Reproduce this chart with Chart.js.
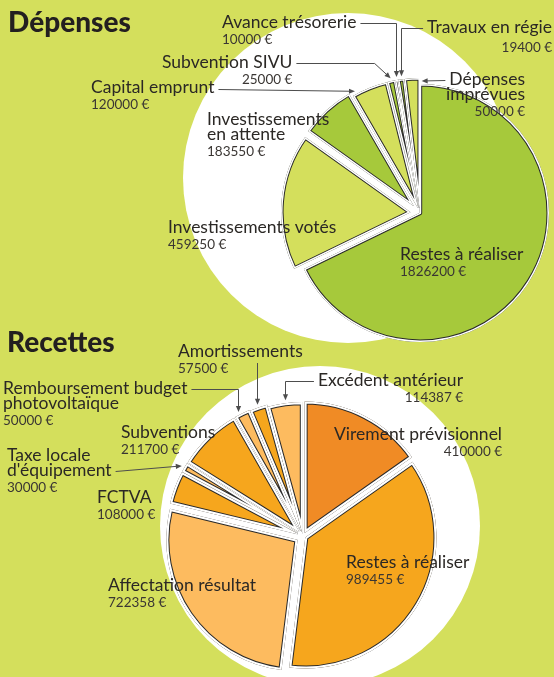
<!DOCTYPE html>
<html><head><meta charset="utf-8">
<script src="https://cdn.jsdelivr.net/npm/chart.js@4.4.0/dist/chart.umd.min.js"></script>
<style>
html,body{margin:0;padding:0;background:#d4df5c;width:554px;height:677px;overflow:hidden}
canvas{position:absolute;left:0;top:0}
</style></head><body>
<canvas id="dep" width="554" height="677"></canvas>
<canvas id="rec" width="554" height="677"></canvas>
<script>
// ---------- DATA ----------
const depTitle = 'Dépenses';
const depCategories = ['Restes à réaliser', 'Investissements votés', 'Investissements\nen attente', 'Capital emprunt', 'Subvention SIVU', 'Avance trésorerie', 'Travaux en régie', 'Dépenses\nimprévues'];
const depValues = [1826200, 459250, 183550, 120000, 25000, 10000, 19400, 50000];

const recTitle = 'Recettes';
const recCategories = ['Virement prévisionnel', 'Restes à réaliser', 'Affectation résultat', 'FCTVA', 'Taxe locale\nd\'équipement', 'Subventions', 'Remboursement budget\nphotovoltaïque', 'Amortissements', 'Excédent antérieur'];
const recValues = [410000, 989455, 722358, 108000, 30000, 211700, 50000, 57500, 114387];

const currency = ' €';

// ---------- STYLE ----------
const BG = '#d4df5c';
const INK = '#2b2825';
const LEAD = '#4d4d4d';
const NAME_FONT = '17.5px Lato, "Open Sans", sans-serif';
const VALUE_FONT = '13.5px Lato, "Open Sans", sans-serif';
const TITLE_FONT = '900 28px Lato, "DejaVu Sans", sans-serif';
const LH = 15, VH = 16;

const depStyle = {
  title: depTitle, titlePos: [8, 32], fillBg: true,
  disc: [348, 178, 165],
  colors: ['#a6c93b', '#d4df5c', '#a6c93b', '#d4df5c', '#a6c93b', '#d4df5c', '#a6c93b', '#d4df5c'],
  explode: [0, 10, 10, 6, 6, 6, 6, 6],
  gap: 1.2,
  radius: 129,
  padding: {left: 286, right: 0, top: 0, bottom: 251},
  labels: [
    {x: 400, y: 260, align: 'left'},
    {x: 168, y: 233, align: 'left'},
    {x: 207, y: 125, align: 'left'},
    {x: 91, y: 93, align: 'left'},
    {x: 162, y: 68, align: 'left', valueRight: true},
    {x: 222, y: 28, align: 'left'},
    {x: 552, y: 33, align: 'right', vdy: 19},
    {x: 525, y: 85, align: 'right'}
  ],
  leaders: {
    3: {line: 0, dy: -4, route: 'd', frac: 0.1, extra: 3},
    4: {line: 0, dy: -5, route: 'hd', frac: 0.5, extra: 3, elbowDx: -16},
    5: {line: 0, dy: -5, route: 'hv', frac: 0.5, extra: 3},
    6: {line: 0, dy: -5, route: 'hv', frac: 0.5, extra: 3},
    7: {line: 0, dy: -5, route: 'd', frac: 1, extra: -3, dx: 2}
  }
};

const recStyle = {
  title: recTitle, titlePos: [7, 352], fillBg: false,
  disc: [320, 526, 160],
  colors: ['#f08b25', '#f6a61d', '#fdbb5f', '#f6a61d', '#fdbb5f', '#f6a61d', '#fdbb5f', '#f6a61d', '#fdbb5f'],
  explode: [4, 3, 7, 6, 6, 6, 6, 5, 3],
  gap: 1.8,
  radius: 131,
  padding: {left: 52, right: 0, top: 395, bottom: 0},
  labels: [
    {x: 502, y: 440, align: 'right'},
    {x: 346, y: 568, align: 'left'},
    {x: 108, y: 591, align: 'left'},
    {x: 97, y: 503, align: 'left'},
    {x: 7, y: 461, align: 'left'},
    {x: 121, y: 438, align: 'left'},
    {x: 3, y: 394, align: 'left'},
    {x: 178, y: 357, align: 'left'},
    {x: 463, y: 386, align: 'right'}
  ],
  leaders: {
    4: {line: 1, dy: -5, route: 'd', frac: 0.5, extra: 3},
    6: {line: 0, dy: -5, route: 'hv', frac: 0.3, extra: 3},
    7: {line: 0, dy: 6, route: 'v', frac: 0.5, extra: 3},
    8: {line: 0, dy: -5, route: 'hv', frac: 0.5, extra: 3}
  }
};

// ---------- HELPERS ----------
function fmt(v) { return String(v) + currency; }

function arcPoint(el, t, frac, extra) {
  const mid = (el.startAngle + el.endAngle) / 2;
  const a = el.startAngle + frac * (el.endAngle - el.startAngle);
  const r = el.outerRadius + extra;
  return {x: el.x + Math.cos(mid) * t + Math.cos(a) * r, y: el.y + Math.sin(mid) * t + Math.sin(a) * r};
}

function drawArcEl(ctx, el, t, over) {
  const mid = (el.startAngle + el.endAngle) / 2;
  ctx.save();
  ctx.translate(Math.cos(mid) * t, Math.sin(mid) * t);
  const saved = el.options;
  if (over) el.options = Object.assign({}, saved, over);
  el.draw(ctx);
  el.options = saved;
  ctx.restore();
}

function drawArrow(ctx, pts) {
  ctx.save();
  ctx.strokeStyle = LEAD; ctx.fillStyle = LEAD; ctx.lineWidth = 1;
  const p = pts[pts.length - 1], q = pts[pts.length - 2];
  const ang = Math.atan2(p.y - q.y, p.x - q.x);
  const L = 6, W = 2.6;
  const bx = p.x - L * Math.cos(ang), by = p.y - L * Math.sin(ang);
  ctx.beginPath();
  ctx.moveTo(pts[0].x, pts[0].y);
  for (let i = 1; i < pts.length - 1; i++) ctx.lineTo(pts[i].x, pts[i].y);
  ctx.lineTo(bx + Math.cos(ang), by + Math.sin(ang));
  ctx.stroke();
  ctx.beginPath();
  ctx.moveTo(p.x, p.y);
  ctx.lineTo(bx + W * Math.sin(ang), by - W * Math.cos(ang));
  ctx.lineTo(bx - W * Math.sin(ang), by + W * Math.cos(ang));
  ctx.closePath();
  ctx.fill();
  ctx.restore();
}

function drawLabels(chart, style, cats, vals) {
  const ctx = chart.ctx;
  const meta = chart.getDatasetMeta(0);
  cats.forEach((name, i) => {
    const L = style.labels[i];
    const lines = name.split('\n');
    ctx.save();
    ctx.fillStyle = INK;
    ctx.textBaseline = 'alphabetic';
    ctx.font = NAME_FONT;
    ctx.textAlign = L.align;
    const widths = lines.map(s => ctx.measureText(s).width);
    lines.forEach((s, k) => ctx.fillText(s, L.x, L.y + k * LH));
    ctx.font = VALUE_FONT;
    let vx = L.x, va = L.align;
    if (L.valueRight) { vx = L.x + widths[0]; va = 'right'; }
    ctx.textAlign = va;
    ctx.fillStyle = '#3a3633';
    ctx.fillText(fmt(vals[i]), vx, L.y + (lines.length - 1) * LH + (L.vdy || VH));
    ctx.restore();

    const ld = style.leaders[i];
    if (ld) {
      const el = meta.data[i];
      const t = style.explode[i];
      const tip = arcPoint(el, t, ld.frac, ld.extra);
      tip.x += (ld.dx || 0);
      const yb = L.y + (ld.line || 0) * LH;
      let s;
      if (ld.route === 'v') {
        tip.x = Math.round(tip.x) + 0.5;
        s = {x: tip.x, y: yb + ld.dy};
      } else {
        const w = widths[ld.line || 0];
        const sx = L.align === 'left' ? L.x + w + 4 : L.x - w - 4;
        s = {x: sx, y: Math.round(yb + ld.dy) + 0.5};
      }
      let pts;
      if (ld.route === 'hv') {
        tip.x = Math.round(tip.x) + 0.5;
        pts = [s, {x: tip.x, y: s.y}, tip];
      } else if (ld.route === 'hd') {
        pts = [s, {x: tip.x + ld.elbowDx, y: s.y}, tip];
      } else {
        pts = [s, tip];
      }
      drawArrow(ctx, pts);
    }
  });
  ctx.save();
  ctx.font = TITLE_FONT;
  ctx.fillStyle = '#231f20';
  ctx.textAlign = 'left';
  ctx.textBaseline = 'alphabetic';
  ctx.fillText(style.title, style.titlePos[0], style.titlePos[1]);
  ctx.restore();
}

function makePlugin(style, cats, vals) {
  return {
    id: 'budgetDecor',
    beforeDraw(chart) {
      const ctx = chart.ctx;
      ctx.save();
      if (style.fillBg) { ctx.fillStyle = BG; ctx.fillRect(0, 0, chart.width, chart.height); }
      ctx.fillStyle = '#ffffff';
      ctx.beginPath();
      ctx.arc(style.disc[0], style.disc[1], style.disc[2], 0, Math.PI * 2);
      ctx.fill();
      ctx.restore();
    },
    beforeDatasetsDraw(chart) {
      const ctx = chart.ctx;
      const meta = chart.getDatasetMeta(0);
      meta.data.forEach((el, i) => {
        const t = style.explode[i];
        drawArcEl(ctx, el, t, null);
        drawArcEl(ctx, el, t, {backgroundColor: 'rgba(0,0,0,0)', borderColor: '#ffffff', borderWidth: style.gap, borderAlign: 'inner'});
      });
      return false;
    },
    afterDraw(chart) { drawLabels(chart, style, cats, vals); }
  };
}

function makeChart(id, style, cats, vals) {
  return new Chart(document.getElementById(id), {
    type: 'pie',
    data: {
      labels: cats,
      datasets: [{
        data: vals,
        backgroundColor: style.colors,
        borderColor: '#2a2a2a',
        borderWidth: style.gap + 1,
        borderAlign: 'inner',
        offset: 0,
        radius: style.radius
      }]
    },
    options: {
      responsive: false,
      animation: false,
      devicePixelRatio: 1,
      events: [],
      layout: {padding: style.padding},
      plugins: {legend: {display: false}, tooltip: {enabled: false}, title: {display: false}}
    },
    plugins: [makePlugin(style, cats, vals)]
  });
}

makeChart('dep', depStyle, depCategories, depValues);
makeChart('rec', recStyle, recCategories, recValues);
</script>
</body></html>
